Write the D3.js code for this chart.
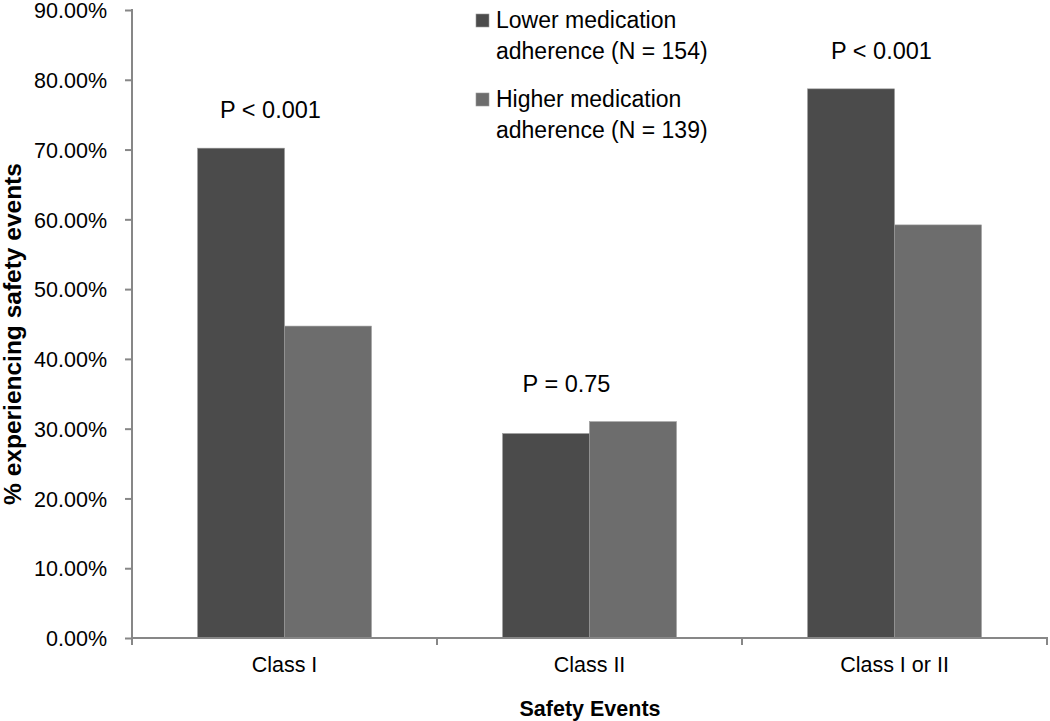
<!DOCTYPE html>
<html><head><meta charset="utf-8">
<script src="https://cdn.jsdelivr.net/npm/d3@7"></script>
<style>body{margin:0;background:#fff}svg{display:block}text{font-family:"Liberation Sans",Arial,sans-serif;fill:#000}</style>
</head><body><svg id="c" width="1050" height="721"></svg>
<script>
const categories = ["Class I", "Class II", "Class I or II"];
const seriesNames = ["Lower medication adherence (N = 154)", "Higher medication adherence (N = 139)"];
const legendLines = [["Lower medication", "adherence (N = 154)"], ["Higher medication", "adherence (N = 139)"]];
const lowerValues = [70.2, 29.3, 78.7];
const higherValues = [44.7, 31.0, 59.2];
const pLabels = ["P < 0.001", "P = 0.75", "P < 0.001"];
const yTicks = [0, 10, 20, 30, 40, 50, 60, 70, 80, 90];
const colors = ["#4b4b4b", "#6d6d6d"];

const svg = d3.select("#c");
const mLeft = 132, mRight = 1047, mTop = 10, mBottom = 638;
const y = d3.scaleLinear().domain([0, 90]).range([mBottom, mTop]);
const x0 = d3.scaleBand().domain(categories).range([mLeft, mRight]).paddingInner(0.43).paddingOuter(0.215);
const x1 = d3.scaleBand().domain([0, 1]).range([0, x0.bandwidth()]);
const step = x0.step();

const data = categories.map((c, i) => ({c, vals: [lowerValues[i], higherValues[i]], p: pLabels[i]}));
const pOffsets = [-14, -23, -13];

// bars
const g = svg.append("g");
data.forEach((d, i) => {
  d.vals.forEach((v, j) => {
    g.append("rect")
      .attr("x", x0(d.c) + x1(j))
      .attr("y", y(v))
      .attr("width", x1.bandwidth())
      .attr("height", y(0) - y(v))
      .attr("fill", colors[j])
      .attr("stroke", "#9a9a9a").attr("stroke-width", 0.6);
  });
  const hi = Math.max(...d.vals);
  svg.append("text").attr("x", x0(d.c) + x0.bandwidth() / 2 + pOffsets[i])
    .attr("y", y(hi) - 30).attr("text-anchor", "middle").style("font-size", "23.5px").text(d.p);
});

// y axis
const yAxis = d3.axisLeft(y).tickValues(yTicks).tickFormat(d => d.toFixed(2) + "%").tickSize(7).tickSizeOuter(0);
const ya = svg.append("g").attr("transform", `translate(${mLeft},0)`).call(yAxis);
ya.selectAll("path,line").attr("stroke", "#878787").attr("stroke-width", 2);
ya.select(".domain").attr("d", `M0,${mTop - 1}V${mBottom}`);
ya.selectAll("text").attr("x", -25).attr("dy", "0.36em").style("font-size", "21.5px").style("font-family", "Liberation Sans, Arial, sans-serif").attr("fill", "#000");

// x axis
const xa = svg.append("g").attr("transform", `translate(0,${mBottom})`);
xa.append("line").attr("x1", mLeft - 1).attr("x2", mRight + 1).attr("y1", 0).attr("y2", 0).attr("stroke", "#878787").attr("stroke-width", 2);
const bounds = categories.map(c => x0(c) - (step - x0.bandwidth()) / 2).concat([mRight]);
xa.selectAll("line.t").data(bounds).enter().append("line").attr("class", "t")
  .attr("x1", d => d).attr("x2", d => d).attr("y1", 0).attr("y2", 7).attr("stroke", "#878787").attr("stroke-width", 2);
xa.selectAll("text.cat").data(categories).enter().append("text").attr("class", "cat")
  .attr("x", d => x0(d) + x0.bandwidth() / 2).attr("y", 34).attr("text-anchor", "middle").style("font-size", "21.5px").text(d => d);

// axis titles
svg.append("text").attr("x", 590).attr("y", 716).attr("text-anchor", "middle").style("font-size", "21.5px").style("font-weight", "bold").text("Safety Events");
svg.append("text").attr("transform", "translate(21,334) rotate(-90)").attr("text-anchor", "middle").style("font-size", "24.5px").style("font-weight", "bold").text("% experiencing safety events");

// legend
legendLines.forEach((lines, i) => {
  const ly = 14 + i * 79;
  svg.append("rect").attr("x", 476).attr("y", ly).attr("width", 13).attr("height", 13).attr("fill", colors[i]).attr("stroke", "#999").attr("stroke-width", 0.6);
  lines.forEach((t, k) => {
    svg.append("text").attr("x", 496).attr("y", ly + 14 + k * 31).style("font-size", "23px").text(t);
  });
});
</script></body></html>
